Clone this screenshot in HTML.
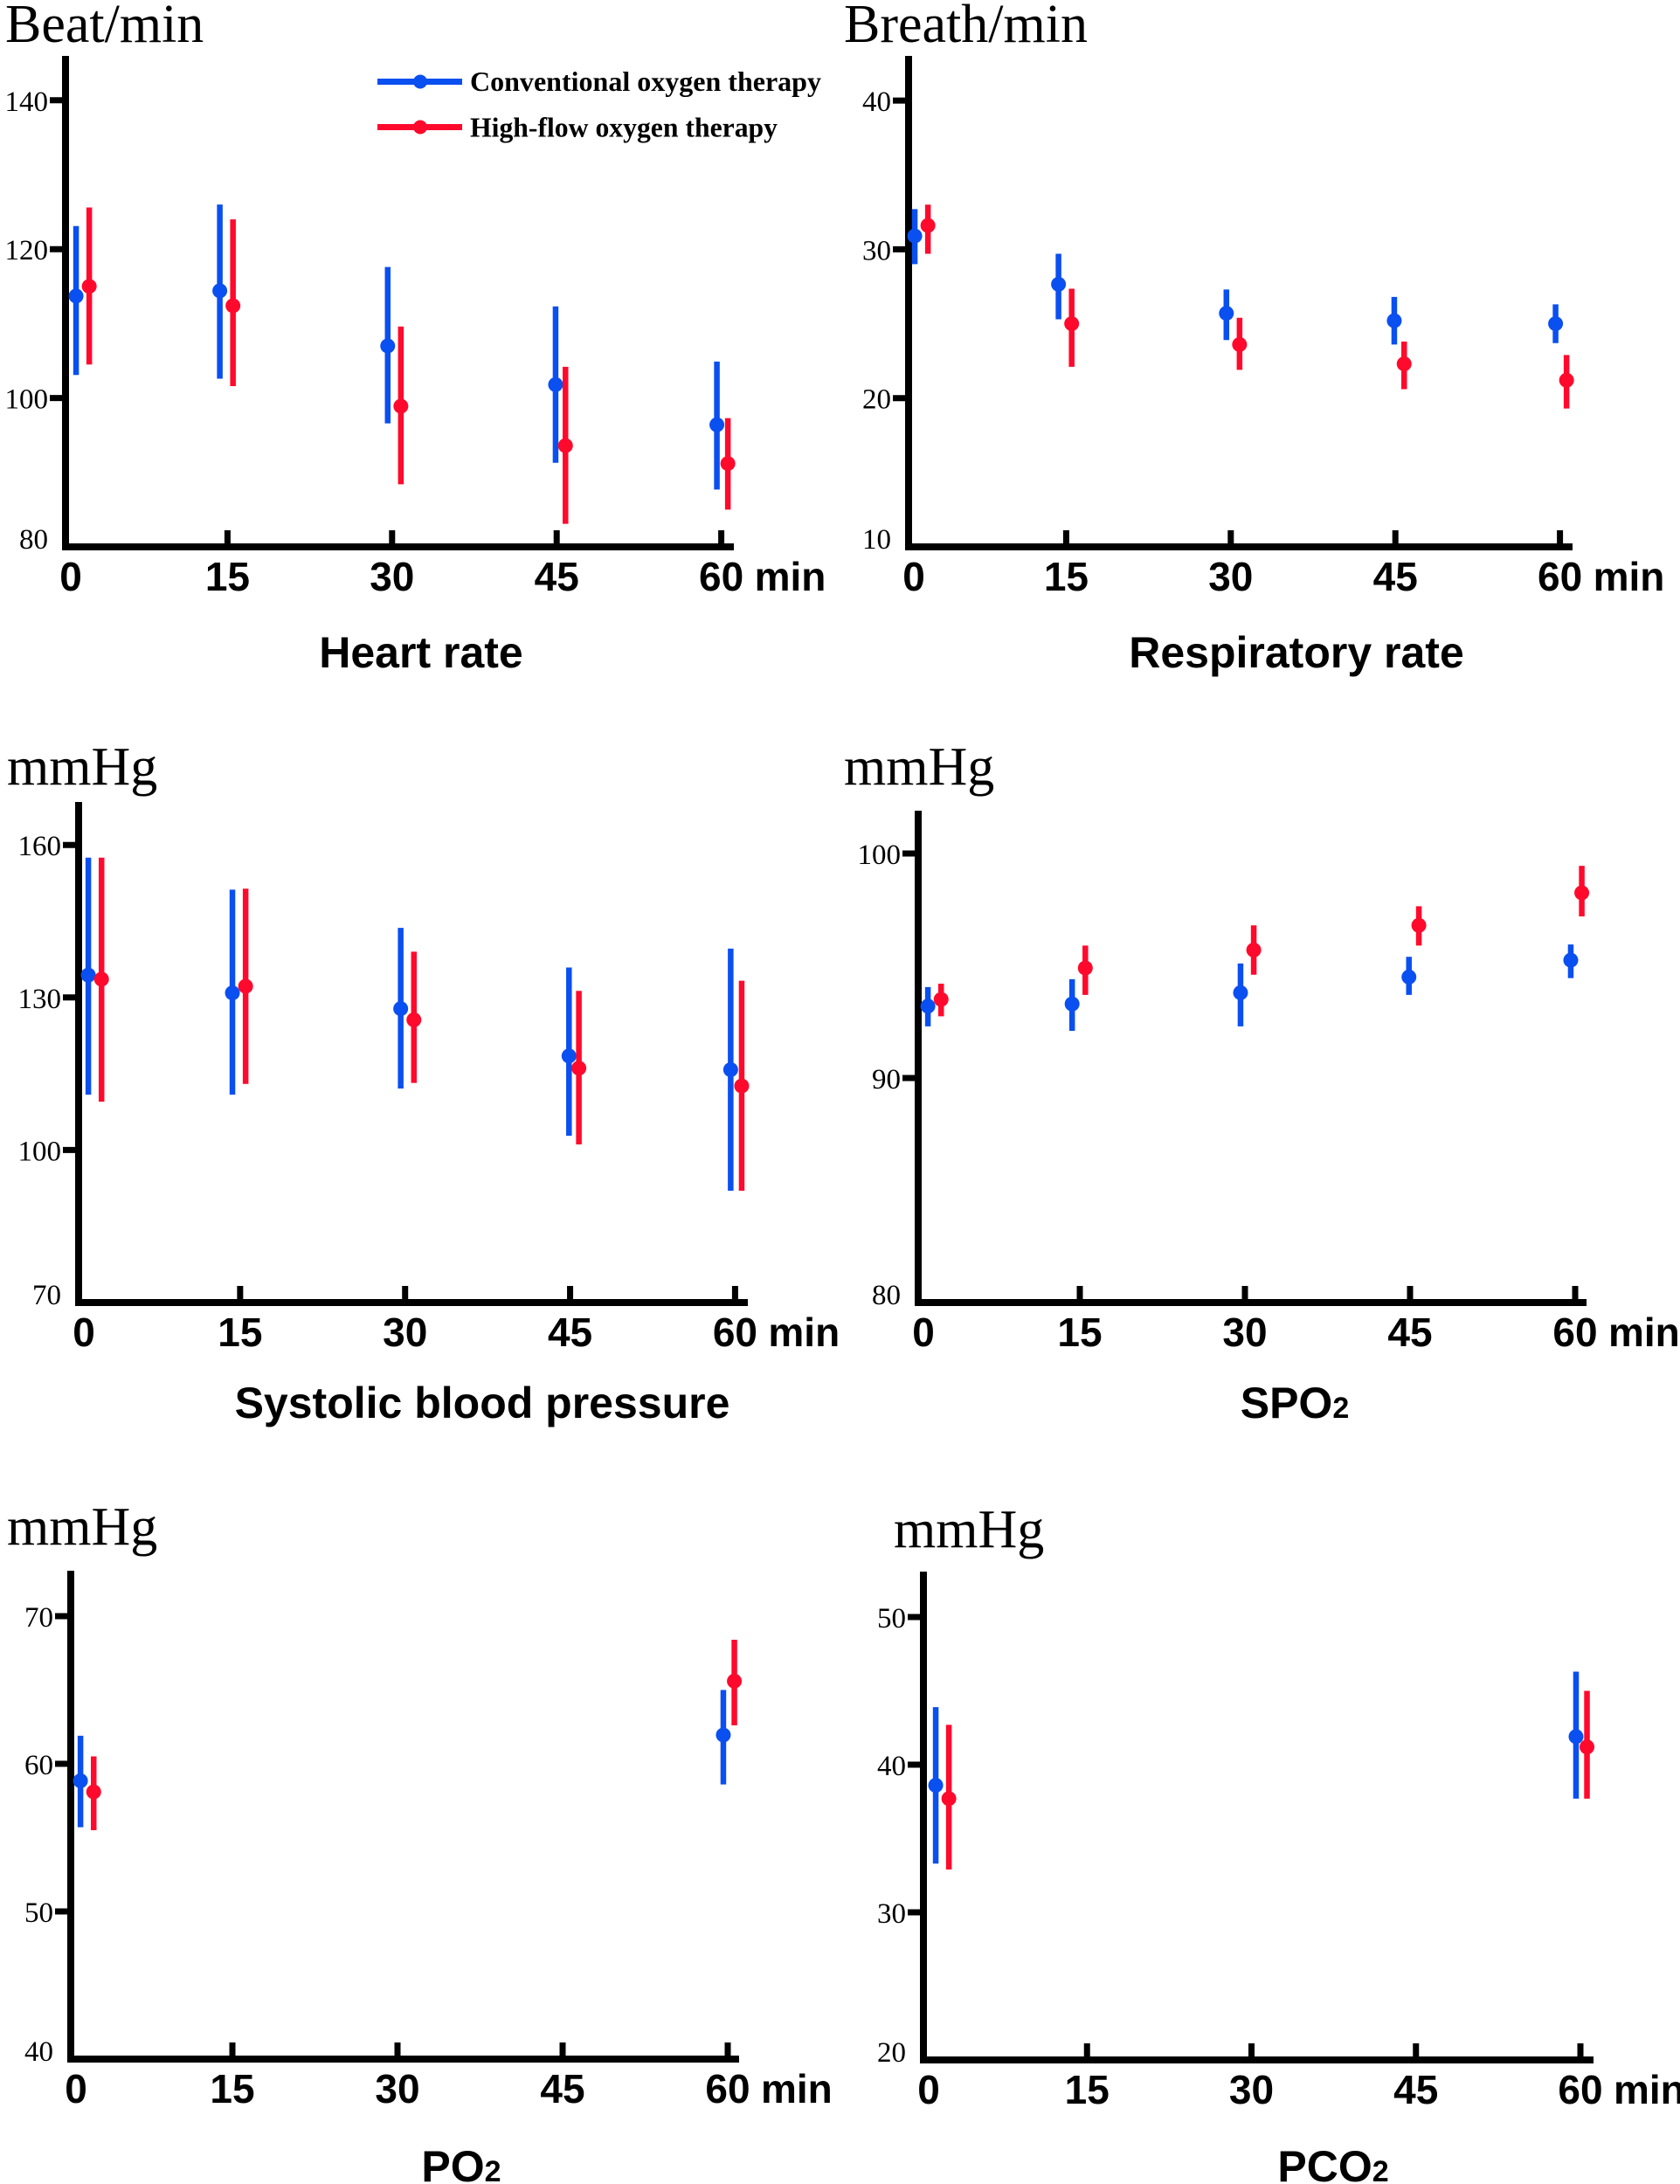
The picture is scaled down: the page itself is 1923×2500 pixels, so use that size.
<!DOCTYPE html>
<html><head><meta charset="utf-8"><style>
html,body{margin:0;padding:0;background:#fff}
svg{display:block}
</style></head><body>
<svg id="chart" xmlns="http://www.w3.org/2000/svg" width="1923" height="2500" viewBox="0 0 1923 2500">
<rect width="1923" height="2500" fill="#fff"/>
<g>
<g>
<line x1="432" y1="93.5" x2="529" y2="93.5" stroke="#0a4ff0" stroke-width="7"/>
<circle cx="481" cy="93.5" r="8" fill="#0a4ff0"/>
<text x="538" y="104" font-family="Liberation Serif, serif" font-weight="bold" font-size="32" textLength="402" lengthAdjust="spacingAndGlyphs">Conventional oxygen therapy</text>
</g>
<g>
<line x1="432" y1="145.5" x2="529" y2="145.5" stroke="#ff0a2c" stroke-width="7"/>
<circle cx="481" cy="145.5" r="8" fill="#ff0a2c"/>
<text x="538" y="156.5" font-family="Liberation Serif, serif" font-weight="bold" font-size="32" textLength="352" lengthAdjust="spacingAndGlyphs">High-flow oxygen therapy</text>
</g>
</g>
</svg>
<script>
// time positions (minutes, with small visual dodge)
const blueTimes = [1.2, 14.3, 29.6, 44.9, 59.6];
const redTimes = [2.4, 15.5, 30.8, 45.8, 60.6];
const xTickLabels = ["0", "15", "30", "45", "60"];
// Heart rate
const hrTicks = [80, 100, 120, 140];
const hrBlueMean = [113.7, 114.4, 107.0, 101.8, 96.4];
const hrBlueLow = [103.1, 102.6, 96.6, 91.3, 87.7];
const hrBlueHigh = [123.1, 126.0, 117.6, 112.3, 104.9];
const hrRedMean = [115.0, 112.4, 98.9, 93.6, 91.2];
const hrRedLow = [104.5, 101.6, 88.4, 83.1, 85.0];
const hrRedHigh = [125.6, 124.0, 109.6, 104.2, 97.3];
// Respiratory rate
const rrTicks = [10, 20, 30, 40];
const rrBlueMean = [30.9, 27.65, 25.7, 25.2, 25.0];
const rrBlueLow = [29.0, 25.3, 23.9, 23.6, 23.7];
const rrBlueHigh = [32.7, 29.7, 27.3, 26.8, 26.3];
const rrRedMean = [31.6, 25.0, 23.6, 22.3, 21.2];
const rrRedLow = [29.7, 22.1, 21.9, 20.6, 19.3];
const rrRedHigh = [33.0, 27.35, 25.4, 23.8, 22.9];
// Systolic blood pressure
const sbpTicks = [70, 100, 130, 160];
const sbpBlueMean = [134.4, 130.9, 127.8, 118.5, 115.8];
const sbpBlueLow = [110.9, 110.9, 112.1, 102.8, 92.0];
const sbpBlueHigh = [157.5, 151.2, 143.7, 135.9, 139.6];
const sbpRedMean = [133.6, 132.2, 125.6, 116.1, 112.6];
const sbpRedLow = [109.5, 113.0, 113.2, 101.1, 92.0];
const sbpRedHigh = [157.5, 151.4, 139.0, 131.3, 133.3];
// SpO2
const spoTicks = [80, 90, 100];
const spoBlueMean = [93.2, 93.3, 93.8, 94.5, 95.25];
const spoBlueLow = [92.3, 92.1, 92.3, 93.7, 94.45];
const spoBlueHigh = [94.05, 94.4, 95.1, 95.4, 95.95];
const spoRedMean = [93.5, 94.9, 95.7, 96.8, 98.25];
const spoRedLow = [92.75, 93.7, 94.6, 95.9, 97.2];
const spoRedHigh = [94.2, 95.9, 96.8, 97.65, 99.45];
// PO2 (0 and 60 min only)
const pTimesIdx = [0, 4];
const poTicks = [40, 50, 60, 70];
const poBlueMean = [58.85, 61.95];
const poBlueLow = [55.7, 58.6];
const poBlueHigh = [61.9, 65.0];
const poRedMean = [58.1, 65.6];
const poRedLow = [55.5, 62.6];
const poRedHigh = [60.5, 68.4];
// PCO2
const pcoTicks = [20, 30, 40, 50];
const pcoBlueMean = [38.6, 41.9];
const pcoBlueLow = [33.3, 37.7];
const pcoBlueHigh = [43.9, 46.3];
const pcoRedMean = [37.7, 41.2];
const pcoRedLow = [32.9, 37.7];
const pcoRedHigh = [42.7, 45.0];

const NS = "http://www.w3.org/2000/svg";
const svg = document.getElementById('chart');
const BLUE = "#0a4ff0", RED = "#ff0a2c";
function mk(tag, attrs, parent) {
  const e = document.createElementNS(NS, tag);
  for (const k in attrs) e.setAttribute(k, attrs[k]);
  parent.appendChild(e);
  return e;
}
function panel(cfg) {
  const g = mk('g', {}, svg);
  
  
  const xs = t => cfg.x0 + t * cfg.ppm;
  const ys = v => cfg.base - (v - cfg.vmin) * cfg.ppu;
  const ut = mk('text', {x: cfg.unitX, y: cfg.unitY, 'font-family': 'Liberation Serif, serif', 'font-size': 62}, g);
  ut.textContent = cfg.unit;
  
  
  const ya = mk('line', {x1: cfg.ax, y1: cfg.top, x2: cfg.ax, y2: cfg.base + 4, stroke: '#000', 'stroke-width': 8}, g);
  
  
  const xa = mk('line', {x1: cfg.ax - 4, y1: cfg.base, x2: cfg.xEnd, y2: cfg.base, stroke: '#000', 'stroke-width': 8}, g);
  
  
  cfg.ticks.forEach((v, i) => {
    const y = ys(v);
    if (i > 0) mk('line', {x1: cfg.ax - 18, y1: y, x2: cfg.ax, y2: y, stroke: '#000', 'stroke-width': 7}, g);
    const t = mk('text', {x: cfg.ax - 20, y: (i === 0 ? y + 2 : y + 12), 'text-anchor': 'end', 'font-family': 'Liberation Serif, serif', 'font-size': 33}, g);
    t.textContent = String(v);
    
    
  });
  xTickLabels.forEach((lab, i) => {
    const x = xs(Number(lab));
    if (i > 0) mk('line', {x1: x, y1: cfg.base - 19, x2: x, y2: cfg.base, stroke: '#000', 'stroke-width': 7}, g);
    const tx = i === 0 ? cfg.ax + 6 : x;
    const t = mk('text', {x: tx, y: cfg.base + 50, 'text-anchor': 'middle', 'font-family': 'Liberation Sans, sans-serif', 'font-weight': 'bold', 'font-size': 46}, g);
    t.textContent = lab;
    
    
    if (i === 4) {
      const m = mk('text', {x: x + 38, y: cfg.base + 50, 'font-family': 'Liberation Sans, sans-serif', 'font-weight': 'bold', 'font-size': 46}, g);
      m.textContent = 'min';
      
      
    }
  });
  const tt = mk('text', {x: cfg.titleX, y: cfg.titleY, 'text-anchor': 'middle', 'font-family': 'Liberation Sans, sans-serif', 'font-weight': 'bold', 'font-size': 50}, g);
  
  
  tt.appendChild(document.createTextNode(cfg.title));
  if (cfg.sub) {
    const s = mk('tspan', {'font-size': 34}, tt);
    s.textContent = cfg.sub;
  }
  const series = [
    {n: 'conventional', c: BLUE, t: cfg.bt, m: cfg.bm, lo: cfg.bl, hi: cfg.bh},
    {n: 'high-flow', c: RED, t: cfg.rt, m: cfg.rm, lo: cfg.rl, hi: cfg.rh}
  ];
  series.forEach(s => {
    s.m.forEach((v, i) => {
      const x = xs(s.t[i]);
      const e = mk('line', {x1: x, y1: ys(s.hi[i]), x2: x, y2: ys(s.lo[i]), stroke: s.c, 'stroke-width': 6.5}, g);
      
      
      const d = mk('circle', {cx: x, cy: ys(v), r: 8.5, fill: s.c}, g);
      
      
    });
  });
}
const pickB = pTimesIdx.map(i => blueTimes[i]);
const pickR = pTimesIdx.map(i => redTimes[i]);
panel({name: 'heart-rate', unit: 'Beat/min', unitX: 6, unitY: 48, ax: 75, x0: 72, ppm: 12.56, top: 64, base: 626, xEnd: 840, vmin: 80, ppu: 8.52, ticks: hrTicks,
  title: 'Heart rate', titleX: 482, titleY: 764,
  bt: blueTimes, bm: hrBlueMean, bl: hrBlueLow, bh: hrBlueHigh, rt: redTimes, rm: hrRedMean, rl: hrRedLow, rh: hrRedHigh});
panel({name: 'respiratory-rate', unit: 'Breath/min', unitX: 966, unitY: 48, ax: 1040, x0: 1032, ppm: 12.56, top: 64, base: 626, xEnd: 1800, vmin: 10, ppu: 17.03, ticks: rrTicks,
  title: 'Respiratory rate', titleX: 1484, titleY: 764,
  bt: blueTimes, bm: rrBlueMean, bl: rrBlueLow, bh: rrBlueHigh, rt: redTimes, rm: rrRedMean, rl: rrRedLow, rh: rrRedHigh});
panel({name: 'systolic-bp', unit: 'mmHg', unitX: 8, unitY: 898, ax: 90, x0: 86, ppm: 12.59, top: 918, base: 1491, xEnd: 856, vmin: 70, ppu: 5.82, ticks: sbpTicks,
  title: 'Systolic blood pressure', titleX: 552, titleY: 1623,
  bt: blueTimes, bm: sbpBlueMean, bl: sbpBlueLow, bh: sbpBlueHigh, rt: redTimes, rm: sbpRedMean, rl: sbpRedLow, rh: sbpRedHigh});
panel({name: 'spo2', unit: 'mmHg', unitX: 966, unitY: 898, ax: 1051, x0: 1047, ppm: 12.6, top: 928, base: 1491, xEnd: 1816, vmin: 80, ppu: 25.7, ticks: spoTicks,
  title: 'SPO', sub: '2', titleX: 1482, titleY: 1623,
  bt: blueTimes, bm: spoBlueMean, bl: spoBlueLow, bh: spoBlueHigh, rt: redTimes, rm: spoRedMean, rl: spoRedLow, rh: spoRedHigh});
panel({name: 'po2', unit: 'mmHg', unitX: 8, unitY: 1768, ax: 81, x0: 77, ppm: 12.6, top: 1798, base: 2357, xEnd: 846, vmin: 40, ppu: 16.9, ticks: poTicks,
  title: 'PO', sub: '2', titleX: 528, titleY: 2497,
  bt: pickB, bm: poBlueMean, bl: poBlueLow, bh: poBlueHigh, rt: pickR, rm: poRedMean, rl: poRedLow, rh: poRedHigh});
panel({name: 'pco2', unit: 'mmHg', unitX: 1023, unitY: 1771, ax: 1057, x0: 1056, ppm: 12.55, top: 1799, base: 2358, xEnd: 1824, vmin: 20, ppu: 16.9, ticks: pcoTicks,
  title: 'PCO', sub: '2', titleX: 1526, titleY: 2497,
  bt: pickB, bm: pcoBlueMean, bl: pcoBlueLow, bh: pcoBlueHigh, rt: pickR, rm: pcoRedMean, rl: pcoRedLow, rh: pcoRedHigh});
</script>
</body></html>
